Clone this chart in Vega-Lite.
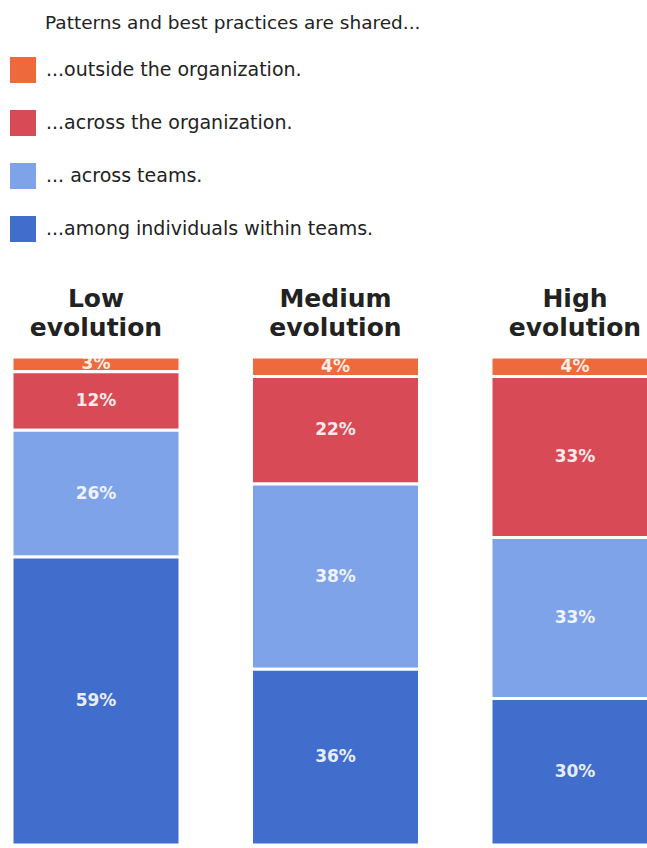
{
  "$schema": "https://vega.github.io/schema/vega-lite/v6.json",
  "width": 647,
  "height": 488,
  "autosize": {"type": "none"},
  "padding": {"left": 0, "top": 357, "right": 0, "bottom": 3},
  "background": "#ffffff",
  "config": {"view": {"stroke": null}, "font": "DejaVu Sans"},
  "title": {
    "text": "Patterns and best practices are shared...",
    "anchor": "start",
    "frame": "group",
    "orient": "top",
    "dx": 45,
    "offset": 10,
    "baseline": "alphabetic",
    "font": "DejaVu Sans",
    "fontSize": 18.5,
    "fontWeight": "normal",
    "color": "#222222",
    "limit": 600
  },
  "data": {
    "values": [
      {"group": "Low evolution", "share": "...outside the organization.", "rank": 4, "value": 0.03},
      {"group": "Low evolution", "share": "...across the organization.", "rank": 3, "value": 0.12},
      {"group": "Low evolution", "share": "... across teams.", "rank": 2, "value": 0.26},
      {"group": "Low evolution", "share": "...among individuals within teams.", "rank": 1, "value": 0.59},
      {"group": "Medium evolution", "share": "...outside the organization.", "rank": 4, "value": 0.04},
      {"group": "Medium evolution", "share": "...across the organization.", "rank": 3, "value": 0.22},
      {"group": "Medium evolution", "share": "... across teams.", "rank": 2, "value": 0.38},
      {"group": "Medium evolution", "share": "...among individuals within teams.", "rank": 1, "value": 0.36},
      {"group": "High evolution", "share": "...outside the organization.", "rank": 4, "value": 0.04},
      {"group": "High evolution", "share": "...across the organization.", "rank": 3, "value": 0.33},
      {"group": "High evolution", "share": "... across teams.", "rank": 2, "value": 0.33},
      {"group": "High evolution", "share": "...among individuals within teams.", "rank": 1, "value": 0.30}
    ]
  },
  "encoding": {
    "x": {
      "field": "group",
      "type": "nominal",
      "sort": ["Low evolution", "Medium evolution", "High evolution"],
      "scale": {"range": [0, 671], "paddingInner": 0.2985, "paddingOuter": 0.0501},
      "axis": {
        "orient": "top",
        "title": null,
        "domain": false,
        "ticks": false,
        "labelAngle": 0,
        "labelExpr": "split(datum.value, ' ')",
        "labelFont": "DejaVu Sans",
        "labelFontSize": 25,
        "labelFontWeight": "bold",
        "labelColor": "#222222",
        "labelLineHeight": 29,
        "labelPadding": 46
      }
    },
    "y": {
      "field": "value",
      "type": "quantitative",
      "stack": "zero",
      "scale": {"domain": [0, 1]},
      "axis": null
    },
    "order": {"field": "rank", "type": "quantitative"}
  },
  "layer": [
    {
      "mark": {"type": "bar", "stroke": "#ffffff", "strokeWidth": 3, "clip": true},
      "encoding": {
        "color": {
          "field": "share",
          "type": "nominal",
          "scale": {
            "domain": ["...outside the organization.", "...across the organization.", "... across teams.", "...among individuals within teams."],
            "range": ["#ee6a3c", "#d84a56", "#7ea3e8", "#416ecd"]
          },
          "legend": {
            "orient": "none",
            "legendX": 10,
            "legendY": -300,
            "padding": 0,
            "title": null,
            "labelFont": "DejaVu Sans",
            "labelFontSize": 19,
            "labelColor": "#222222",
            "labelOffset": 10,
            "labelLimit": 500,
            "symbolType": "square",
            "symbolSize": 676,
            "symbolStrokeWidth": 0,
            "symbolOpacity": 1,
            "rowPadding": 27
          }
        }
      }
    },
    {
      "mark": {"type": "text", "font": "DejaVu Sans", "fontSize": 17, "fontWeight": "bold", "fill": "#ffffff", "opacity": 0.88, "baseline": "middle", "clip": true},
      "encoding": {
        "y": {"field": "value", "type": "quantitative", "stack": "zero", "bandPosition": 0.5},
        "text": {"field": "value", "type": "quantitative", "format": ".0%"}
      }
    }
  ]
}
